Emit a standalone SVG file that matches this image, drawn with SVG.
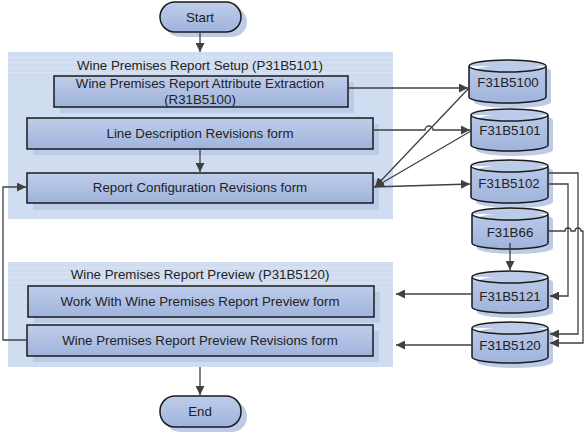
<svg xmlns="http://www.w3.org/2000/svg" width="585" height="434" viewBox="0 0 585 434">
<defs>
<linearGradient id="g" x1="0" y1="0" x2="0" y2="1">
<stop offset="0" stop-color="#bfcdea"/>
<stop offset="1" stop-color="#9fb3dc"/>
</linearGradient>
<marker id="a" viewBox="0 0 10 10" refX="10" refY="5" markerWidth="9" markerHeight="9" markerUnits="userSpaceOnUse" orient="auto">
<path d="M0,0 L10,5 L0,10 Z" fill="#404040"/>
</marker>
<style>
.grp{fill:#d0dcef}
.stripe{stroke:#dae3f2;stroke-width:1.2}
.sh{fill:#bccbe7}
.box{fill:url(#g);stroke:#1a1a1a;stroke-width:1.5}
.t{font-family:"Liberation Sans",Arial,sans-serif;font-size:13.3px;fill:#222;text-anchor:middle}
.c{fill:none;stroke:#404040;stroke-width:1.3}
.ca{fill:none;stroke:#404040;stroke-width:1.3;marker-end:url(#a)}
</style>
</defs>
<rect width="585" height="434" fill="#fff"/>

<g id="setup-group">
<rect class="grp" x="8" y="52" width="385" height="167"/>
<line class="stripe" x1="8" y1="57.5" x2="393" y2="57.5"/>
<line class="stripe" x1="8" y1="62.5" x2="393" y2="62.5"/>
<line class="stripe" x1="8" y1="67.5" x2="393" y2="67.5"/>
<line class="stripe" x1="8" y1="72.5" x2="393" y2="72.5"/>
<text class="t" x="200" y="70">Wine Premises Report Setup (P31B5101)</text>
</g>
<g id="preview-group">
<rect class="grp" x="8" y="262" width="385" height="105"/>
<line class="stripe" x1="8" y1="267.5" x2="393" y2="267.5"/>
<line class="stripe" x1="8" y1="272.5" x2="393" y2="272.5"/>
<line class="stripe" x1="8" y1="277.5" x2="393" y2="277.5"/>
<line class="stripe" x1="8" y1="282.5" x2="393" y2="282.5"/>
<text class="t" x="200" y="279">Wine Premises Report Preview (P31B5120)</text>
</g>

<g id="start">
<rect class="sh" x="165" y="7" width="82" height="30" rx="15"/>
<rect class="box" x="160" y="2" width="81" height="30" rx="15"/>
<text class="t" x="200" y="21.5">Start</text>
</g>
<g id="end">
<rect class="sh" x="165" y="401" width="82" height="31" rx="15"/>
<rect class="box" x="160" y="396" width="81" height="31" rx="15"/>
<text class="t" x="200" y="416">End</text>
</g>

<g id="attr-extraction">
<rect class="sh" x="60" y="82" width="294" height="31"/>
<rect class="box" x="54" y="76" width="294" height="31"/>
<text class="t" x="200" y="88">Wine Premises Report Attribute Extraction</text>
<text class="t" x="200" y="104">(R31B5100)</text>
</g>
<g id="line-desc">
<rect class="sh" x="33" y="124" width="346" height="31"/>
<rect class="box" x="27" y="118" width="346" height="31"/>
<text class="t" x="200" y="138">Line Description Revisions form</text>
</g>
<g id="report-config">
<rect class="sh" x="33" y="179" width="346" height="31"/>
<rect class="box" x="27" y="173" width="346" height="30"/>
<text class="t" x="200" y="192">Report Configuration Revisions form</text>
</g>
<g id="work-with">
<rect class="sh" x="34" y="292" width="346" height="31"/>
<rect class="box" x="28" y="286" width="346" height="31"/>
<text class="t" x="200" y="305.5">Work With Wine Premises Report Preview form</text>
</g>
<g id="preview-revisions">
<rect class="sh" x="33" y="331" width="346" height="31"/>
<rect class="box" x="27" y="325" width="346" height="31"/>
<text class="t" x="200" y="344.5">Wine Premises Report Preview Revisions form</text>
</g>

<g id="F31B5100">
<path class="sh" d="M474,71 A38.5,6 0 0 1 551,71 V102 A38.5,6 0 0 1 474,102 Z"/>
<path class="box" d="M469,66 A38.5,6 0 0 1 546,66 V97 A38.5,6 0 0 1 469,97 Z M469,66 A38.5,6 0 0 0 546,66"/>
<text class="t" x="508" y="86.5">F31B5100</text>
</g>
<g id="F31B5101">
<path class="sh" d="M476,120 A38.5,6 0 0 1 553,120 V150 A38.5,6 0 0 1 476,150 Z"/>
<path class="box" d="M471,115 A38.5,6 0 0 1 548,115 V145 A38.5,6 0 0 1 471,145 Z M471,115 A38.5,6 0 0 0 548,115"/>
<text class="t" x="510" y="135">F31B5101</text>
</g>
<g id="F31B5102">
<path class="sh" d="M476,171 A38.5,6 0 0 1 553,171 V202 A38.5,6 0 0 1 476,202 Z"/>
<path class="box" d="M471,166 A38.5,6 0 0 1 548,166 V197 A38.5,6 0 0 1 471,197 Z M471,166 A38.5,6 0 0 0 548,166"/>
<text class="t" x="509" y="188">F31B5102</text>
</g>
<g id="F31B66">
<path class="sh" d="M477,219 A38,6 0 0 1 553,219 V248 A38,6 0 0 1 477,248 Z"/>
<path class="box" d="M472,214 A38,6 0 0 1 548,214 V243 A38,6 0 0 1 472,243 Z M472,214 A38,6 0 0 0 548,214"/>
<text class="t" x="510" y="236.5">F31B66</text>
</g>
<g id="F31B5121">
<path class="sh" d="M477,282 A38,6 0 0 1 553,282 V312 A38,6 0 0 1 477,312 Z"/>
<path class="box" d="M472,277 A38,6 0 0 1 548,277 V307 A38,6 0 0 1 472,307 Z M472,277 A38,6 0 0 0 548,277"/>
<text class="t" x="510" y="300.5">F31B5121</text>
</g>
<g id="F31B5120">
<path class="sh" d="M477,333 A38,6 0 0 1 553,333 V362 A38,6 0 0 1 477,362 Z"/>
<path class="box" d="M472,328 A38,6 0 0 1 548,328 V357 A38,6 0 0 1 472,357 Z M472,328 A38,6 0 0 0 548,328"/>
<text class="t" x="510" y="349.5">F31B5120</text>
</g>

<g id="connectors">
<path class="ca" d="M200,32 V52"/>
<path class="ca" d="M200,149 V172"/>
<path class="ca" d="M200,367 V395"/>
<path class="ca" d="M27,340 H3 V187 H26"/>
<path class="ca" d="M348,88 H468"/>
<path class="ca" d="M373,130 H425 A4,4 0 0 1 433,130 H470"/>
<path class="ca" d="M469,88 L375,187"/>
<path class="ca" d="M471,131 L375,187"/>
<path class="ca" d="M373,187 L470,184"/>
<path class="ca" d="M548,184 H568 V296 H550"/>
<path class="ca" d="M548,173 H578 V334 H550"/>
<path class="ca" d="M548,231 H565 A3,3 0 0 1 571,231 H575 A3,3 0 0 1 581,231 H583 V343 H550"/>
<path class="ca" d="M510,243 V270"/>
<path class="ca" d="M472,294 H396"/>
<path class="ca" d="M472,345 H396"/>
</g>
</svg>
